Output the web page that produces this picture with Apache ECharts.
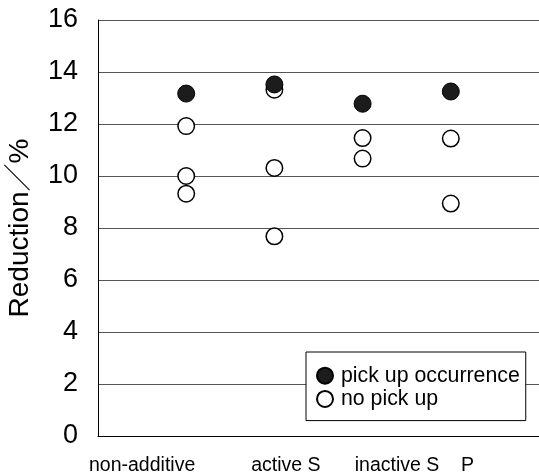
<!DOCTYPE html>
<html><head><meta charset="utf-8">
<script src="https://cdn.jsdelivr.net/npm/echarts@6/dist/echarts.min.js"></script>
<style>html,body{margin:0;padding:0;background:#fff}#c{width:539px;height:475px}</style>
</head><body><div id="c"></div>
<script>
// ---- data ----
const categories = ['non-additive', 'active S', 'inactive S', 'P'];
const yTickValues = [0, 2, 4, 6, 8, 10, 12, 14, 16];
const seriesNames = ['pick up occurrence', 'no pick up'];
const yAxisTitle = 'Reduction／%';
// filled markers (one per category)
const pickUpOccurrence = [13.17, 13.52, 12.78, 13.25];
// open markers (several per category)
const noPickUpNonAdditive = [11.92, 10.0, 9.32];
const noPickUpActiveS = [13.32, 10.31, 7.68];
const noPickUpInactiveS = [11.46, 10.67];
const noPickUpP = [11.44, 8.94];
const noPickUp = [noPickUpNonAdditive, noPickUpActiveS, noPickUpInactiveS, noPickUpP];

// ---- layout (positions of category labels on the x value axis, as in the original figure) ----
const labelPos = [0.5, 2.13, 3.39, 4.19];
const FONT = '"Liberation Sans", Arial, "Noto Sans CJK JP", sans-serif';

const filledData = pickUpOccurrence.map((v, i) => [i + 1, v]);
const openData = [];
noPickUp.forEach((arr, i) => arr.forEach(v => openData.push([i + 1, v])));

const chart = echarts.init(document.getElementById('c'), null, {renderer: 'canvas'});
chart.setOption({
  backgroundColor: '#fff',
  animation: false,
  textStyle: {fontFamily: FONT},
  grid: {left: 98, top: 20, right: 0, bottom: 39, containLabel: false, outerBoundsMode: 'none'},
  xAxis: {
    type: 'value', min: 0, max: 5,
    axisLine: {show: true, onZero: false, lineStyle: {color: '#000', width: 1}},
    axisTick: {show: false},
    splitLine: {show: false},
    axisLabel: {
      customValues: labelPos,
      margin: 20,
      fontSize: 19.5, color: '#000', fontFamily: FONT,
      formatter: function (v) {
        let best = 0, d = Infinity;
        labelPos.forEach((p, i) => { if (Math.abs(p - v) < d) { d = Math.abs(p - v); best = i; } });
        return categories[best];
      }
    }
  },
  yAxis: {
    type: 'value', min: yTickValues[0], max: yTickValues[yTickValues.length - 1], interval: 2,
    name: yAxisTitle, nameLocation: 'middle', nameGap: 64,
    nameTextStyle: {fontSize: 28, color: '#000', fontFamily: FONT},
    axisLine: {show: true, lineStyle: {color: '#000', width: 1}},
    axisTick: {show: false},
    axisLabel: {fontSize: 27, color: '#000', margin: 20, fontFamily: FONT},
    splitLine: {show: true, lineStyle: {color: '#555', width: 1}}
  },
  legend: {
    orient: 'vertical', left: 306, top: 352,
    data: [seriesNames[0], seriesNames[1]],
    backgroundColor: '#fff', borderColor: '#000', borderWidth: 1,
    padding: [13, 6, 11, 10],
    itemWidth: 16, itemHeight: 16, itemGap: 2,
    textStyle: {fontSize: 21.3, color: '#000', fontFamily: FONT, padding: [0, 0, 0, 3]}
  },
  series: [
    {
      name: seriesNames[1], type: 'scatter', data: openData,
      symbol: 'circle', symbolSize: 16.5,
      itemStyle: {color: '#fff', borderColor: '#000', borderWidth: 1.5, opacity: 1}
    },
    {
      name: seriesNames[0], type: 'scatter', data: filledData,
      symbol: 'circle', symbolSize: 17,
      itemStyle: {color: '#1c1c1c', borderColor: '#000', borderWidth: 1, opacity: 1}
    }
  ]
});
</script>
</body></html>
